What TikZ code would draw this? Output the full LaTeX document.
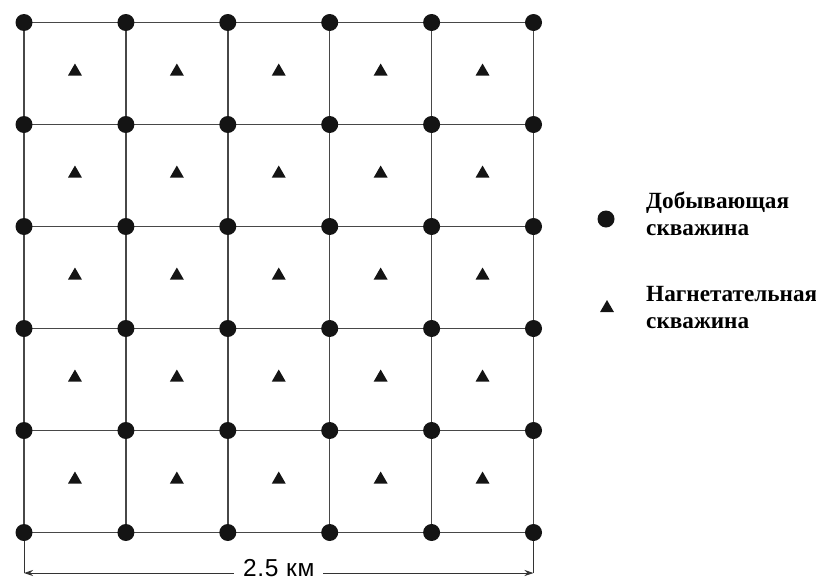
\documentclass[tikz,border=0pt]{standalone}
\usepackage{fontspec}
\setmainfont{Liberation Serif}
\newfontfamily\dimfont[LetterSpace=3]{Liberation Sans}
\usetikzlibrary{shapes.geometric,arrows.meta,calc}
\begin{document}
\begin{tikzpicture}[x=1pt,y=-1pt,
  gridline/.style={draw=black!72,line width=1.4pt},
  prod/.style={circle,fill=black!92,inner sep=0pt,minimum size=17pt},
  inj/.style={regular polygon,regular polygon sides=3,fill=black!92,inner sep=0pt,minimum size=16pt},
  legtext/.style={anchor=west,inner sep=0pt,align=left,font=\fontsize{23.2}{27}\selectfont\bfseries},
  dimline/.style={draw=black!80,line width=1pt},
  dimtext/.style={fill=white,inner xsep=9pt,inner ysep=2pt,font=\dimfont\fontsize{24.5}{25}\selectfont}]
\useasboundingbox (0,0) rectangle (816,581);
% grid coordinates
\foreach \i in {0,...,5}{
  \foreach \j in {0,...,5}{
    \coordinate (c-\i-\j) at ({24+101.9*\i},{22.5+102*\j});
  }
}
% grid lines
\foreach \k in {0,...,5}{
  \draw[gridline] (c-0-\k) -- (c-5-\k);
  \draw[gridline] (c-\k-0) -- (c-\k-5);
}
% dimension
\coordinate (d-l) at ($(c-0-5)+(0,40.5)$);
\coordinate (d-r) at ($(c-5-5)+(0,40.5)$);
\draw[dimline] (c-0-5) -- (d-l);
\draw[dimline] (c-5-5) -- (d-r);
\draw[dimline,{Stealth[length=9pt,width=6pt]}-{Stealth[length=9pt,width=6pt]}] (d-l) -- (d-r)
  node[dimtext,midway,yshift=5pt] (dimlabel) {2.5 км};
% production wells
\foreach \i in {0,...,5}{
  \foreach \j in {0,...,5}{
    \node[prod] (p-\i-\j) at (c-\i-\j) {};
  }
}
% injection wells
\foreach \i in {0,...,4}{
  \foreach \j in {0,...,4}{
    \node[inj] (t-\i-\j) at ({24+101.9*\i+50.95},{22.5+102*\j+49}) {};
  }
}
% legend
\node[prod] (leg-p) at (606,219) {};
\node[legtext] (leg-pt) at (646,214) {Добывающая\\скважина};
\node[inj] (leg-t) at (607,308) {};
\node[legtext] (leg-tt) at (646,308) {Нагнетательная\\скважина};
\end{tikzpicture}
\end{document}
